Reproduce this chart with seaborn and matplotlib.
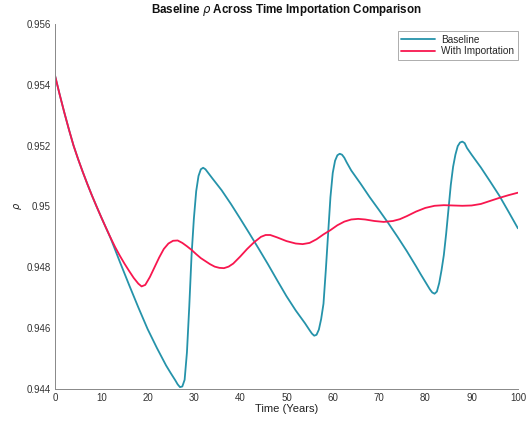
import numpy as np
import pandas as pd
import matplotlib
matplotlib.use("Agg")
import matplotlib.pyplot as plt
import seaborn as sns
from matplotlib.ticker import FuncFormatter

# ---- data ----
base_t = [0, 1, 2, 3, 4, 5, 6, 7, 8, 9, 10, 11, 12, 14, 16, 18, 20, 22, 24, 25, 26, 26.5, 27,
          27.5, 28, 28.5, 29, 29.5, 30, 30.5, 31, 31.5, 32, 32.5, 33, 34, 36, 38, 40, 42, 44,
          46, 48, 50, 52, 54, 55, 55.5, 56, 56.5, 57, 57.5, 58, 58.5, 59, 59.5, 60, 60.5, 61,
          61.5, 62, 62.5, 63, 64, 66, 68, 70, 72, 74, 76, 78, 79, 80, 81, 81.5, 82, 82.5, 83,
          83.5, 84, 84.5, 85, 85.5, 86, 86.5, 87, 87.5, 88, 88.5, 89, 90, 92, 94, 96, 98, 100]
base_v = [0.95430, 0.95368, 0.95309, 0.95253, 0.95200, 0.95155, 0.95113, 0.95073, 0.95035,
          0.94999, 0.94964, 0.94930, 0.94896, 0.94818, 0.94742, 0.94668, 0.94597, 0.94535,
          0.94477, 0.94452, 0.94428, 0.94415, 0.94406, 0.94408, 0.94430, 0.94520, 0.94670,
          0.94840, 0.94960, 0.95050, 0.95100, 0.95122, 0.95127, 0.95122, 0.95112, 0.95092,
          0.95053, 0.95008, 0.94960, 0.94911, 0.94861, 0.94810, 0.94757, 0.94705, 0.94658,
          0.94616, 0.94593, 0.94582, 0.94575, 0.94578, 0.94595, 0.94630, 0.94680, 0.94790,
          0.94910, 0.95030, 0.95110, 0.95150, 0.95168, 0.95173, 0.95170, 0.95160, 0.95145,
          0.95118, 0.95075, 0.95030, 0.94988, 0.94945, 0.94900, 0.94853, 0.94803, 0.94777,
          0.94752, 0.94727, 0.94717, 0.94713, 0.94720, 0.94748, 0.94790, 0.94840, 0.94910,
          0.94990, 0.95070, 0.95130, 0.95170, 0.95198, 0.95210, 0.95213, 0.95208, 0.95192,
          0.95170, 0.95128, 0.95082, 0.95035, 0.94982, 0.94928]

imp_t = [0, 1, 2, 3, 4, 5, 6, 7, 8, 9, 10, 11, 12, 13, 14, 15, 16, 17, 18, 18.7, 19.5, 20.5,
         21.5, 22.5, 23.5, 24.5, 25.5, 26.5, 27.5, 28.5, 29.5, 30.5, 31.5, 32.5, 33.5, 34.5,
         35.5, 36.5, 37.5, 38.5, 40, 41.5, 43, 44.5, 45.5, 46.5, 48, 50, 52, 53.5, 55, 56.5,
         58, 59.5, 61, 62.5, 64, 65.5, 67, 69, 71, 73, 74.5, 76, 78, 80, 82, 84, 86, 88, 90,
         92, 94, 96, 98, 100]
imp_v = [0.95430, 0.95368, 0.95309, 0.95253, 0.95200, 0.95155, 0.95113, 0.95073, 0.95035,
         0.94999, 0.94964, 0.94930, 0.94897, 0.94866, 0.94838, 0.94812, 0.94788, 0.94765,
         0.94746, 0.94737, 0.94742, 0.94768, 0.94800, 0.94832, 0.94860, 0.94878, 0.94887,
         0.94888, 0.94880, 0.94869, 0.94857, 0.94843, 0.94830, 0.94820, 0.94810, 0.94802,
         0.94798, 0.94797, 0.94802, 0.94812, 0.94835, 0.94860, 0.94882, 0.94900, 0.94906,
         0.94906, 0.94898, 0.94886, 0.94878, 0.94876, 0.94880, 0.94892, 0.94908, 0.94922,
         0.94938, 0.94950, 0.94957, 0.94959, 0.94957, 0.94952, 0.94949, 0.94952, 0.94958,
         0.94968, 0.94983, 0.94995, 0.95002, 0.95004, 0.95003, 0.95002, 0.95003, 0.95008,
         0.95018, 0.95028, 0.95037, 0.95045]

series_names = ["Baseline", "With Importation"]
x_ticks = [0, 10, 20, 30, 40, 50, 60, 70, 80, 90, 100]
y_ticks = [0.944, 0.946, 0.948, 0.95, 0.952, 0.954, 0.956]

df = pd.concat([
    pd.DataFrame({"t": base_t, "rho": base_v, "series": series_names[0]}),
    pd.DataFrame({"t": imp_t, "rho": imp_v, "series": series_names[1]}),
], ignore_index=True)

sns.set_style("white")
plt.rcParams["font.family"] = ["Liberation Sans", "DejaVu Sans"]

fig = plt.figure(figsize=(5.29, 4.26), dpi=100)
ax = fig.add_axes([0.104, 0.087, 0.875, 0.857])

palette = {series_names[0]: "#2593aa", series_names[1]: "#f8164e"}
sns.lineplot(data=df, x="t", y="rho", hue="series", palette=palette, ax=ax,
             estimator=None, sort=False, linewidth=1.3, legend=True)

ax.set_xlim(0, 100)
ax.set_ylim(0.944, 0.956)
ax.set_xticks(x_ticks)
ax.set_yticks(y_ticks)
ax.yaxis.set_major_formatter(FuncFormatter(lambda v, p: f"{v:g}"))
ax.tick_params(direction="in", length=3, width=0.6, colors="#444444", labelsize=7,
               labelcolor="#333333", pad=3)
for s in ["top", "right"]:
    ax.spines[s].set_visible(False)
for s in ["left", "bottom"]:
    ax.spines[s].set_color("#888888")
    ax.spines[s].set_linewidth(0.7)

ax.set_xlabel("Time (Years)", fontsize=8, color="#222222", labelpad=1)
ax.set_ylabel(r"$\rho$", fontsize=7, color="#222222", labelpad=2)
ax.set_title(r"Baseline $\rho$ Across Time Importation Comparison", fontsize=8.4,
             fontweight="bold", pad=8, color="#111111")

leg = ax.legend(loc="upper right", bbox_to_anchor=(1.004, 0.985), fontsize=7.2,
                frameon=True, fancybox=False, edgecolor="#888888", handlelength=3.4,
                borderpad=0.35, labelspacing=0.12, handletextpad=0.6, borderaxespad=0.2)
leg.get_frame().set_linewidth(0.6)

fig.savefig("out.png", dpi=100, facecolor="white")
